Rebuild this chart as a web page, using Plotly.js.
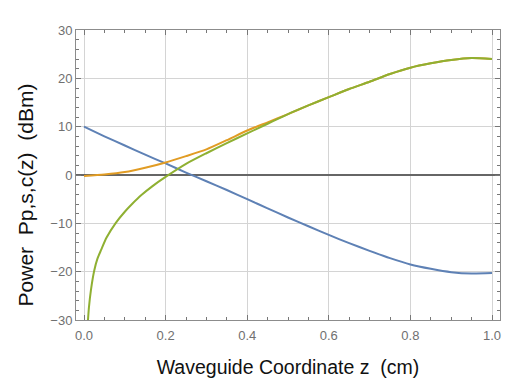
<!DOCTYPE html>
<html>
<head>
<meta charset="utf-8">
<script src="https://cdn.plot.ly/plotly-3.0.1.min.js"></script>
<style>
  html, body { margin: 0; padding: 0; background: #fff; }
  #grafico { width: 523px; height: 392px; }
</style>
</head>
<body>
<div id="grafico"></div>
<script>
// posiciones z (cm)
const zBombeo = [0, 0.05, 0.1, 0.15, 0.2, 0.25, 0.3, 0.35, 0.4, 0.45, 0.5, 0.55, 0.6, 0.65, 0.7, 0.75, 0.8, 0.85, 0.9, 0.95, 1.0];
const potBombeo = [10, 8.0, 6.1, 4.2, 2.4, 0.5, -1.3, -3.1, -5.0, -6.9, -8.8, -10.6, -12.4, -14.1, -15.7, -17.2, -18.5, -19.4, -20.1, -20.4, -20.3];
const potSenal = [-0.2, 0.1, 0.6, 1.5, 2.6, 3.9, 5.3, 7.2, 9.2, 10.9, 12.6, 14.4, 16.1, 17.8, 19.3, 20.9, 22.2, 23.1, 23.8, 24.2, 24.0];

const zConj = [0.0098, 0.012, 0.017, 0.025, 0.033, 0.042, 0.055, 0.078, 0.1, 0.119, 0.14, 0.168, 0.2, 0.25, 0.3, 0.35, 0.4, 0.45, 0.5, 0.55, 0.6, 0.65, 0.7, 0.75, 0.8, 0.85, 0.9, 0.95, 1.0];
const potConj = [-30, -27.5, -23.8, -19.8, -17.3, -15.5, -13.0, -9.9, -7.6, -5.9, -4.2, -2.3, -0.4, 2.3, 4.5, 6.6, 8.6, 10.6, 12.6, 14.4, 16.1, 17.8, 19.3, 20.9, 22.2, 23.1, 23.8, 24.2, 24.0];

const xTicks = [0, 0.2, 0.4, 0.6, 0.8, 1.0];
const yTicks = [-30, -20, -10, 0, 10, 20, 30];

function traza(x, y, color) {
    return {
        x: x,
        y: y,
        mode: "lines",
        type: "scatter",
        line: { color: color, width: 2, shape: "spline", smoothing: 0.6 },
        hoverinfo: "x+y"
    };
}

const trazas = [
    traza(zBombeo, potBombeo, "#5E81B5"),
    traza(zBombeo, potSenal, "#E19C24"),
    traza(zConj, potConj, "#8FB032")
];

const ejeComun = {
    showline: true,
    mirror: "allticks",
    linecolor: "#8c8c8c",
    linewidth: 1,
    ticks: "inside",
    ticklen: 5,
    tickcolor: "#777",
    tickwidth: 1,
    showgrid: true,
    gridcolor: "#d4d4d4",
    gridwidth: 1,
    tickfont: { family: "Liberation Sans, Arial, sans-serif", size: 13, color: "#707070" },
    fixedrange: true
};

const layout = {
    width: 523,
    height: 392,
    margin: { l: 76, r: 23, t: 30, b: 72 },
    paper_bgcolor: "#fff",
    plot_bgcolor: "#fff",
    showlegend: false,
    xaxis: Object.assign({}, ejeComun, {
        range: [-0.0196, 1.0196],
        tickvals: xTicks,
        ticktext: xTicks.map(v => v.toFixed(1)),
        zeroline: false,
        ticklabelstandoff: 3,
        minor: { dtick: 0.05, tick0: 0, ticks: "inside", ticklen: 3, tickcolor: "#777", showgrid: false },
        title: {
            text: "Waveguide Coordinate z\u00a0 (cm)",
            font: { family: "Liberation Sans, Arial, sans-serif", size: 19.5, color: "#111" },
            standoff: 18
        }
    }),
    yaxis: Object.assign({}, ejeComun, {
        range: [-30, 30],
        tickvals: yTicks,
        ticktext: yTicks.map(v => v < 0 ? "\u2212" + Math.abs(v) : String(v)),
        zeroline: true,
        zerolinecolor: "#666",
        zerolinewidth: 1.3,
        minor: { dtick: 2, tick0: 0, ticks: "inside", ticklen: 3, tickcolor: "#777", showgrid: false }
    }),
    annotations: [{
        text: "Power\u00a0 Pp,s,c(z)\u00a0 (dBm)",
        textangle: -90,
        xref: "paper", yref: "paper",
        x: -0.12, y: 0.43,
        xanchor: "center", yanchor: "middle",
        showarrow: false,
        font: { family: "Liberation Sans, Arial, sans-serif", size: 21, color: "#111" }
    }]
};

Plotly.newPlot("grafico", trazas, layout, { displayModeBar: false, staticPlot: true });
</script>
</body>
</html>
